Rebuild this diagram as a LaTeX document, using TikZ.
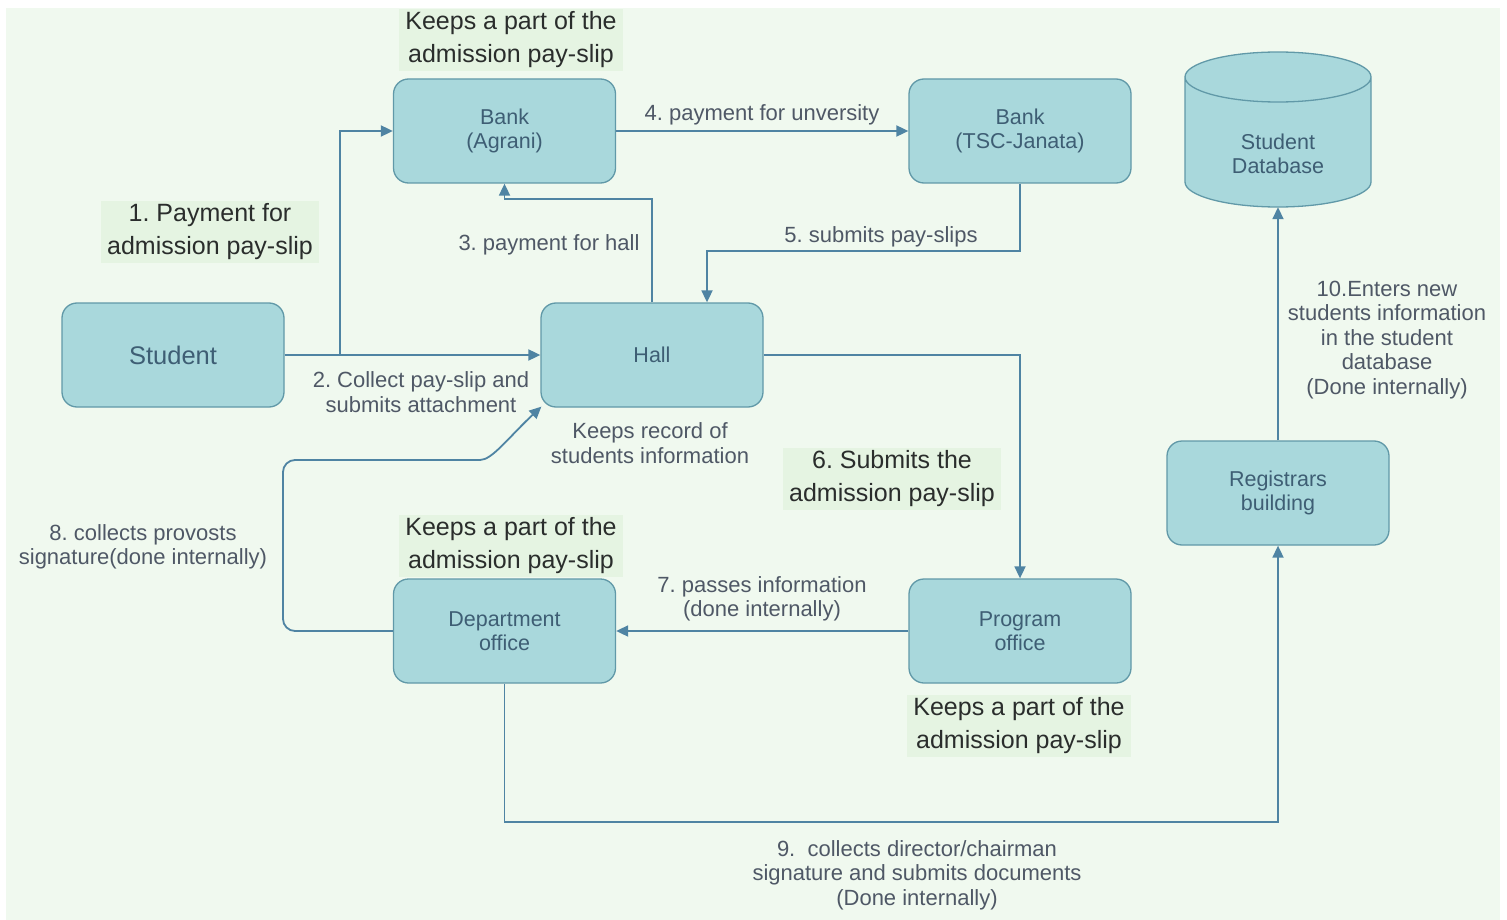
\documentclass[tikz,border=0pt]{standalone}
\usepackage{fontspec}
\setmainfont{Liberation Sans}
\usetikzlibrary{arrows.meta,calc}

\definecolor{pagebg}{HTML}{F0F9EF}
\definecolor{notebg}{HTML}{E5F4E2}
\definecolor{boxfill}{HTML}{A9D8DC}
\definecolor{boxline}{HTML}{6199A8}
\definecolor{flowline}{HTML}{4F84A3}
\definecolor{boxtext}{HTML}{3E5E74}
\definecolor{labtext}{HTML}{4F5866}
\definecolor{notetext}{HTML}{2A2D2C}

\frenchspacing
\begin{document}
\begin{tikzpicture}[x=1pt,y=-1pt,
  box/.style={rectangle, rounded corners=15pt, draw=boxline, fill=boxfill,
    line width=1.3pt, minimum width=222pt, minimum height=104pt,
    text=boxtext, font=\fontsize{21.5}{24}\selectfont, align=center, inner sep=0pt},
  flow/.style={draw=flowline, line width=1.8pt, -{Triangle[length=12pt,width=11pt]}},
  elabel/.style={text=labtext, font=\fontsize{22}{24.5}\selectfont, align=center, inner sep=0pt},
  note/.style={fill=notebg, text=notetext, font=\fontsize{25}{33}\selectfont,
    align=center, inner xsep=6pt, inner ysep=3pt},
]
% page and background
\useasboundingbox (0,0) rectangle (1507,920);
\fill[white] (0,0) rectangle (1507,920);
\fill[pagebg] (6,8) rectangle (1500,920);

% process boxes
\node[box] (bankA) at (504.5,131) {Bank\\(Agrani)};
\node[box] (bankT) at (1020,131) {Bank\\(TSC-Janata)};
\node[box, font=\fontsize{25.5}{30}\selectfont] (student) at (173,355) {Student};
\node[box] (hall) at (652,355) {Hall};
\node[box] (dept) at (504.5,631) {Department\\office};
\node[box] (prog) at (1020,631) {Program\\office};
\node[box] (reg) at (1278,493) {Registrars\\building};

% student database cylinder
\node[minimum width=186pt, minimum height=155pt, inner sep=0pt] (db) at (1278,129.5) {};
\fill[boxfill] (1185,77) -- (1185,182)
  arc[start angle=180, end angle=360, x radius=93pt, y radius=25pt]
  -- (1371,77)
  arc[start angle=0, end angle=180, x radius=93pt, y radius=25pt] -- cycle;
\draw[boxline, line width=1.3pt] (1185,77) -- (1185,182)
  arc[start angle=180, end angle=360, x radius=93pt, y radius=25pt]
  -- (1371,77)
  arc[start angle=0, end angle=180, x radius=93pt, y radius=25pt]
  arc[start angle=180, end angle=360, x radius=93pt, y radius=25pt];
\node[text=boxtext, font=\fontsize{21.5}{24}\selectfont, align=center, inner sep=0pt]
  (dbname) at (1278,154) {Student\\Database};

% connectors
\coordinate (split) at (340,355);
\coordinate (h3) at (652,199);
\coordinate (h5) at (707,251);
\coordinate (c8a) at (283,460);
\coordinate (c8b) at (468,460);
\coordinate (b9) at (504.5,822);

\draw[flow] (student.east) -- (hall.west);
\draw[flow] (split) |- (bankA.west);
\draw[flow] (hall.north) -- (h3) -| (bankA.south);
\draw[flow] (bankA.east) -- (bankT.west);
\draw[flow] (bankT.south) |- (h5) -- (h5 |- hall.north);
\draw[flow] (hall.east) -| (prog.north);
\draw[flow] (prog.west) -- (dept.east);
\draw[flow, rounded corners=12pt] (dept.west) -| (c8a) -- (c8b)
  [sharp corners] .. controls (492,460) and (508,438) .. ($(hall.south west)+(1,-1)$);
\draw[flow] (dept.south) -- (b9) -| (reg.south);
\draw[flow] (reg.north) -- (db.south);

% connector labels
\node[note] (n1) at (210,232) {1. Payment for\\admission pay-slip};
\node[elabel] (l2) at (421,392) {2. Collect pay-slip and\\submits attachment};
\node[elabel] (l3) at (549,245) {3. payment for hall};
\node[elabel] (l4) at (762,115) {4. payment for unversity};
\node[elabel] (l5) at (881,237) {5. submits pay-slips};
\node[note] (n6) at (892,479) {6. Submits the\\admission pay-slip};
\node[elabel] (l7) at (762,599) {7. passes information\\(done internally)};
\node[elabel] (l8) at (143,547) {8. collects provosts\\signature(done internally)};
\node[elabel] (l9) at (917,875) {9.\ \ collects director/chairman\\signature and submits documents\\(Done internally)};
\node[elabel] (l10) at (1387,340) {10.Enters new\\students information\\in the student\\database\\(Done internally)};

% notes beside boxes
\node[note] (k1) at (511,40) {Keeps a part of the\\admission pay-slip};
\node[note] (k2) at (511,546) {Keeps a part of the\\admission pay-slip};
\node[note] (k3) at (1019,726) {Keeps a part of the\\admission pay-slip};
\node[elabel] (hallnote) at (650,443) {Keeps record of\\students information};
\end{tikzpicture}
\end{document}
